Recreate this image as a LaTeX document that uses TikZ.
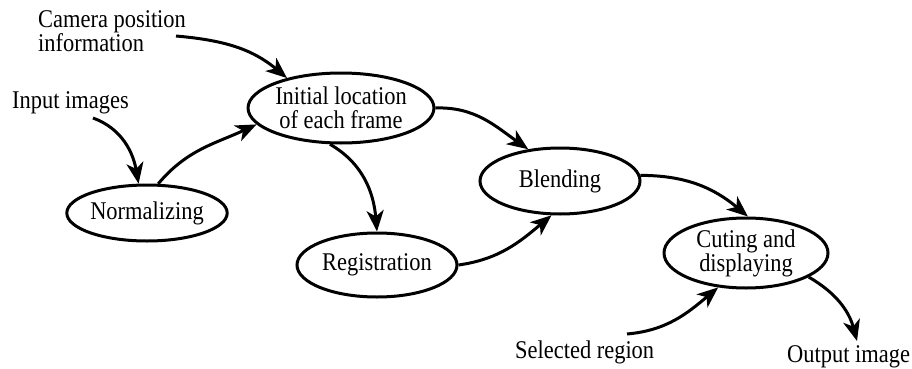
\documentclass[tikz,border=0pt]{standalone}
\usepackage{fontspec}
\usepackage{graphicx}
\setmainfont{Liberation Serif}
\usetikzlibrary{shapes.geometric,arrows.meta}
% slightly condensed lettering
\newcommand{\cond}[1]{\scalebox{0.88}[1]{#1}}
\begin{document}
\begin{tikzpicture}[x=1pt,y=1pt,
  every node/.style={font=\fontsize{25.5}{24}\selectfont},
  stage/.style={ellipse,draw,line width=3pt,inner sep=0pt,align=center},
  flow/.style={line width=3pt,-{Stealth[length=21pt,width=17pt,inset=6pt]}}]
\useasboundingbox (0,0) rectangle (912,-369);

% processing stages
\node[stage,minimum width=160,minimum height=56] (norm) at (147,-213) {\cond{Normalizing}};
\node[stage,minimum width=160,minimum height=70] (init) at (341,-108) {\cond{Initial location}\\\cond{of each frame}};
\node[stage,minimum width=160,minimum height=64] (reg) at (377,-265) {\cond{Registration}};
\node[stage,minimum width=160,minimum height=66] (blend) at (560,-181) {\cond{Blending}};
\node[stage,minimum width=164,minimum height=70] (cut) at (746,-253) {\cond{Cuting and}\\\cond{displaying}};

% inputs and output
\node[anchor=north west,inner sep=0pt,align=left] (cam) at (38,-10) {\cond{Camera position}\\\cond{information}};
\node[anchor=base west,inner sep=0pt] (inp) at (12,-108) {\cond{Input images}};
\node[anchor=base west,inner sep=0pt] (sel) at (515,-358) {\cond{Selected region}};
\node[anchor=base west,inner sep=0pt] (outimg) at (787,-362) {\cond{Output image}};

\coordinate (camS) at (176,-36);
\coordinate (inpS) at (93,-118);
\coordinate (selS) at (627,-334);
\coordinate (outE) at (857,-341);

% connectors
\draw[flow] (camS) to[out=-5,in=140] (init.151);
\draw[flow] (inpS) to[out=-20,in=100] (norm.106);
\draw[flow] (norm.69) to[out=50,in=205] (init.191);
\draw[flow] (init.0) to[out=2,in=145] (blend.135);
\draw[flow] (init.253) to[out=-30,in=95] (reg.90);
\draw[flow] (reg.0) to[out=8,in=220] (blend.256);
\draw[flow] (blend.4) to[out=0,in=140] (cut.87);
\draw[flow] (selS) to[out=5,in=220] (cut.231);
\draw[flow] (cut.-21) to[out=-30,in=105] (outE);
\end{tikzpicture}
\end{document}
